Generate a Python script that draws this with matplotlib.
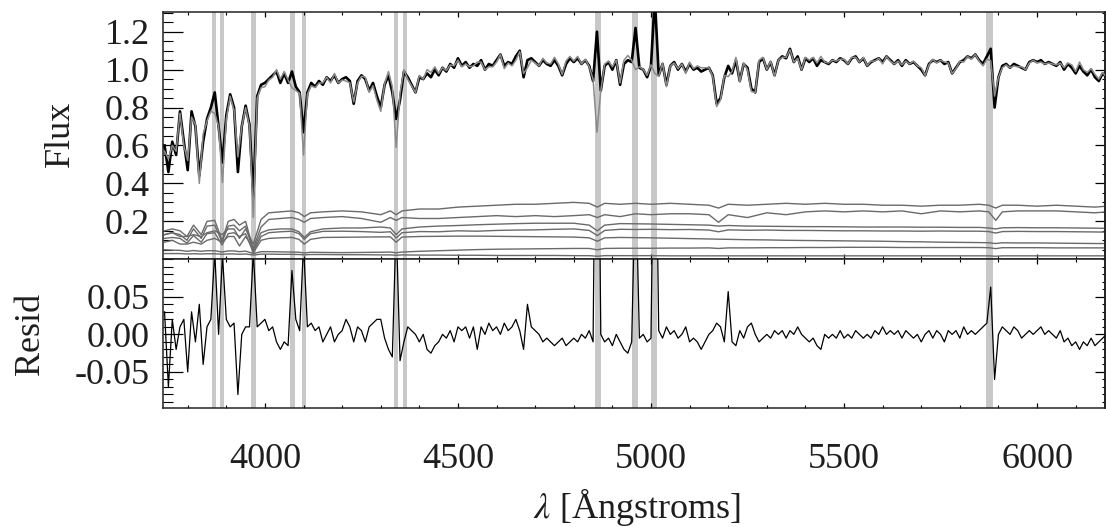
import numpy as np
import matplotlib
matplotlib.use('Agg')
import matplotlib.pyplot as plt
from matplotlib.ticker import MultipleLocator, FixedLocator, FormatStrFormatter

plt.rcParams['font.family'] = 'serif'
plt.rcParams['font.serif'] = ['Liberation Serif', 'Times New Roman', 'DejaVu Serif']
plt.rcParams['mathtext.fontset'] = 'stix'
plt.rcParams['axes.unicode_minus'] = False

# ---------------------------------------------------------------- #
# data
# ---------------------------------------------------------------- #

# wavelength sampling of the spectrum (10 A)
wave = np.arange(3740, 6190, 10)

# observed flux
flux = [
    0.60, 0.46, 0.62, 0.55, 0.78, 0.62, 0.47, 0.78, 0.70, 0.44,
    0.62, 0.74, 0.80, 0.88, 0.70, 0.51, 0.76, 0.87, 0.80, 0.46,
    0.70, 0.81, 0.71, 0.33, 0.86, 0.92, 0.93, 0.95, 0.97, 0.99,
    0.93, 0.98, 0.93, 0.99, 0.91, 0.88, 0.67, 0.88, 0.93, 0.91,
    0.94, 0.92, 0.96, 0.94, 0.97, 0.93, 0.95, 0.96, 0.94, 0.82,
    0.94, 0.97, 0.95, 0.89, 0.93, 0.86, 0.80, 0.92, 0.97, 0.88,
    0.74, 0.84, 0.99, 0.96, 0.92, 0.88, 0.96, 0.95, 0.98, 0.96,
    1.00, 0.97, 1.01, 0.99, 1.03, 1.01, 1.06, 1.02, 1.04, 1.01,
    1.03, 1.02, 1.05, 1.00, 1.03, 1.02, 1.05, 1.08, 1.02, 1.04,
    1.03, 1.07, 1.10, 0.96, 1.05, 1.06, 1.04, 1.02, 1.05, 1.03,
    1.02, 1.05, 1.02, 0.97, 1.03, 1.06, 1.04, 1.06, 1.03, 1.05,
    1.02, 0.94, 1.20, 0.89, 1.02, 1.04, 1.00, 1.05, 0.92, 1.03,
    1.05, 1.04, 1.22, 1.01, 1.00, 0.96, 1.02, 1.38, 0.97, 1.03,
    0.92, 1.02, 1.04, 1.00, 1.03, 0.99, 1.03, 1.00, 1.01, 0.99,
    1.00, 1.01, 0.97, 0.82, 0.85, 0.96, 1.02, 0.98, 1.05, 0.94,
    1.03, 1.01, 0.90, 0.88, 1.04, 1.06, 1.00, 1.04, 0.97, 1.05,
    1.07, 1.06, 1.11, 1.04, 1.07, 1.00, 1.06, 1.04, 1.06, 1.02,
    1.05, 1.04, 1.03, 1.05, 1.04, 1.06, 1.05, 1.03, 1.06, 1.07,
    1.04, 1.06, 1.02, 1.04, 1.05, 1.06, 1.04, 1.07, 1.05, 1.03,
    1.05, 1.02, 1.05, 1.03, 1.04, 1.02, 1.00, 0.97, 1.03, 1.05,
    1.04, 1.05, 1.03, 1.04, 0.98, 1.01, 1.04, 1.05, 1.07, 1.06,
    1.08, 1.05, 1.03, 1.07, 1.11, 0.80, 0.96, 1.02, 1.03, 1.01,
    1.03, 1.02, 1.01, 1.00, 1.04, 1.05, 1.04, 1.05, 1.03, 1.04,
    1.03, 1.02, 1.04, 1.00, 1.03, 1.01, 0.98, 1.02, 0.99, 0.97,
    1.00, 0.96, 0.94, 0.98, 0.96,
]

# residual (data - model); values above 0.1 run off the panel
resid = [
    0.03, -0.07, 0.02, -0.02, 0.01, 0.02, -0.05, 0.03, -0.01, 0.04,
    -0.04, 0.01, 0.02, 0.11, 0.00, 0.105, 0.02, 0.01, 0.015, -0.08,
    0.00, 0.01, 0.01, 0.11, 0.01, 0.015, 0.02, 0.005, 0.01, -0.01,
    -0.02, -0.01, -0.015, 0.085, 0.02, 0.005, 0.12, 0.01, 0.015, 0.005,
    0.01, -0.01, 0.00, 0.01, -0.01, 0.00, 0.005, 0.02, 0.01, -0.01,
    0.01, 0.005, -0.01, 0.01, 0.015, 0.02, 0.02, -0.005, -0.02, -0.03,
    0.15, -0.035, -0.01, 0.01, 0.005, 0.00, -0.01, 0.00, -0.02, -0.025,
    -0.015, -0.01, 0.00, -0.005, 0.005, -0.01, 0.01, 0.005, 0.01, -0.005,
    0.01, -0.02, 0.01, 0.00, 0.015, 0.005, 0.01, 0.00, 0.015, 0.005,
    0.01, 0.02, 0.005, -0.02, 0.04, 0.01, 0.005, 0.00, -0.01, -0.005,
    -0.01, -0.015, -0.01, -0.005, -0.015, -0.01, -0.005, -0.01, 0.00, -0.005,
    0.005, -0.01, 0.53, 0.00, -0.01, -0.005, -0.015, 0.00, -0.01, -0.02,
    -0.025, -0.01, 0.22, -0.005, 0.00, -0.01, -0.005, 0.40, 0.005, -0.005,
    0.01, 0.00, 0.005, -0.005, 0.00, 0.01, -0.01, -0.005, -0.01, -0.02,
    -0.01, 0.00, 0.005, 0.015, 0.01, -0.01, 0.057, -0.01, -0.015, 0.005,
    -0.005, 0.01, 0.015, 0.00, -0.01, -0.005, 0.00, -0.005, 0.005, 0.00,
    0.005, -0.005, 0.005, 0.00, 0.01, 0.00, -0.005, -0.01, -0.005, -0.015,
    -0.02, 0.00, -0.005, 0.00, -0.005, 0.005, -0.005, 0.00, -0.005, 0.005,
    0.00, -0.005, 0.00, -0.005, 0.005, 0.00, 0.01, 0.00, 0.005, 0.00,
    0.005, -0.005, 0.005, 0.00, -0.005, 0.00, -0.01, 0.00, 0.005, -0.005,
    0.005, 0.00, -0.01, 0.005, 0.00, 0.005, -0.005, 0.01, 0.00, 0.005,
    0.00, 0.005, 0.01, 0.015, 0.063, -0.06, 0.00, 0.01, 0.005, 0.00,
    0.01, 0.005, -0.005, 0.00, 0.005, 0.00, 0.005, 0.01, 0.00, 0.005,
    0.00, -0.005, 0.005, -0.01, -0.005, -0.015, -0.01, -0.02, -0.01, -0.015,
    -0.005, -0.015, -0.01, -0.005, 0.00,
]

# coarser sampling for the template components
wave_comp = [
    3740, 3760, 3780, 3798, 3815, 3835, 3850, 3870, 3889, 3905, 3920, 3934, 3950, 3970, 3990,
    4010, 4040, 4070, 4088, 4102, 4118, 4150, 4200, 4250, 4300, 4325, 4340, 4355, 4400, 4450,
    4500, 4550, 4600, 4650, 4700, 4750, 4800, 4840, 4861, 4880, 4920, 4960, 5000, 5050, 5100,
    5150, 5175, 5200, 5250, 5300, 5350, 5400, 5450, 5500, 5550, 5600, 5650, 5700, 5750, 5800,
    5850, 5875, 5893, 5910, 5950, 6000, 6050, 6100, 6150, 6180,
]

comp1 = [
    0.13, 0.14, 0.12, 0.12, 0.13, 0.12, 0.14, 0.15, 0.13, 0.16, 0.16, 0.11, 0.16, 0.08, 0.21,
    0.245, 0.25, 0.255, 0.245, 0.225, 0.245, 0.25, 0.255, 0.25, 0.235, 0.255, 0.235, 0.255, 0.265, 0.265,
    0.275, 0.28, 0.285, 0.29, 0.29, 0.295, 0.30, 0.295, 0.275, 0.295, 0.29, 0.295, 0.29, 0.295, 0.29,
    0.285, 0.27, 0.29, 0.285, 0.29, 0.295, 0.29, 0.295, 0.29, 0.29, 0.285, 0.285, 0.28, 0.285, 0.285,
    0.29, 0.285, 0.27, 0.285, 0.285, 0.28, 0.285, 0.28, 0.275, 0.28,
]
comp2 = [
    0.09, 0.10, 0.08, 0.08, 0.09, 0.08, 0.10, 0.11, 0.09, 0.12, 0.12, 0.07, 0.12, 0.06, 0.17,
    0.21, 0.215, 0.22, 0.21, 0.195, 0.215, 0.22, 0.225, 0.215, 0.195, 0.22, 0.205, 0.22, 0.215, 0.215,
    0.22, 0.225, 0.23, 0.225, 0.23, 0.225, 0.23, 0.235, 0.22, 0.235, 0.225, 0.24, 0.235, 0.24, 0.24,
    0.235, 0.195, 0.235, 0.22, 0.245, 0.235, 0.25, 0.255, 0.25, 0.255, 0.25, 0.255, 0.24, 0.255, 0.25,
    0.255, 0.25, 0.205, 0.25, 0.255, 0.255, 0.255, 0.25, 0.245, 0.25,
]
comp3 = [
    0.15, 0.16, 0.15, 0.12, 0.18, 0.13, 0.20, 0.205, 0.10, 0.20, 0.21, 0.18, 0.20, 0.05, 0.14,
    0.155, 0.16, 0.16, 0.145, 0.115, 0.145, 0.16, 0.165, 0.165, 0.17, 0.165, 0.13, 0.16, 0.17, 0.175,
    0.178, 0.182, 0.185, 0.188, 0.19, 0.19, 0.19, 0.18, 0.15, 0.18, 0.188, 0.187, 0.186, 0.184, 0.182,
    0.18, 0.175, 0.178, 0.175, 0.174, 0.173, 0.172, 0.172, 0.171, 0.17, 0.17, 0.17, 0.169, 0.169, 0.168,
    0.168, 0.165, 0.16, 0.166, 0.167, 0.166, 0.166, 0.165, 0.164, 0.163,
]
comp4 = [
    0.13, 0.14, 0.13, 0.10, 0.16, 0.11, 0.175, 0.18, 0.09, 0.175, 0.18, 0.15, 0.175, 0.04, 0.12,
    0.14, 0.145, 0.148, 0.135, 0.105, 0.135, 0.147, 0.148, 0.146, 0.142, 0.145, 0.112, 0.14, 0.146, 0.145,
    0.15, 0.148, 0.152, 0.154, 0.155, 0.158, 0.16, 0.152, 0.125, 0.152, 0.158, 0.157, 0.158, 0.156, 0.157,
    0.154, 0.145, 0.155, 0.153, 0.154, 0.152, 0.152, 0.151, 0.150, 0.150, 0.149, 0.149, 0.148, 0.149, 0.148,
    0.148, 0.146, 0.138, 0.146, 0.147, 0.146, 0.146, 0.145, 0.144, 0.143,
]
comp5 = [
    0.11, 0.115, 0.11, 0.085, 0.125, 0.09, 0.135, 0.14, 0.075, 0.135, 0.14, 0.12, 0.135, 0.035, 0.10,
    0.11, 0.113, 0.115, 0.105, 0.08, 0.105, 0.115, 0.116, 0.117, 0.118, 0.118, 0.09, 0.117, 0.12, 0.121,
    0.122, 0.122, 0.121, 0.12, 0.119, 0.118, 0.117, 0.113, 0.095, 0.113, 0.115, 0.114, 0.113, 0.111, 0.109,
    0.107, 0.106, 0.105, 0.103, 0.102, 0.100, 0.099, 0.098, 0.097, 0.096, 0.095, 0.093, 0.092, 0.090, 0.089,
    0.088, 0.087, 0.083, 0.087, 0.086, 0.086, 0.085, 0.084, 0.083, 0.083,
]
comp6 = [
    0.05, 0.048, 0.047, 0.042, 0.046, 0.042, 0.045, 0.045, 0.038, 0.044, 0.044, 0.04, 0.043, 0.03, 0.04,
    0.04, 0.039, 0.038, 0.037, 0.033, 0.037, 0.036, 0.035, 0.036, 0.037, 0.038, 0.034, 0.038, 0.042, 0.045,
    0.048, 0.051, 0.053, 0.054, 0.055, 0.056, 0.057, 0.057, 0.05, 0.057, 0.058, 0.058, 0.058, 0.059, 0.059,
    0.06, 0.057, 0.06, 0.06, 0.061, 0.061, 0.062, 0.062, 0.063, 0.063, 0.063, 0.062, 0.062, 0.062, 0.062,
    0.062, 0.061, 0.056, 0.061, 0.061, 0.061, 0.06, 0.06, 0.06, 0.06,
]
comp7 = [
    0.03, 0.03, 0.03, 0.028, 0.029, 0.028, 0.029, 0.029, 0.026, 0.028, 0.028, 0.026, 0.028, 0.022, 0.027,
    0.027, 0.026, 0.026, 0.025, 0.023, 0.025, 0.025, 0.024, 0.024, 0.023, 0.023, 0.021, 0.023, 0.022, 0.022,
    0.021, 0.021, 0.02, 0.02, 0.02, 0.02, 0.019, 0.019, 0.016, 0.019, 0.019, 0.019, 0.019, 0.018, 0.018,
    0.018, 0.018, 0.018, 0.018, 0.018, 0.018, 0.018, 0.018, 0.018, 0.018, 0.018, 0.018, 0.018, 0.018, 0.018,
    0.018, 0.018, 0.016, 0.018, 0.018, 0.018, 0.018, 0.018, 0.018, 0.018,
]
components = [comp1, comp2, comp3, comp4, comp5, comp6, comp7]

# masked emission lines: centre and full width (A)
line_centres = [3869, 3889, 3970, 4071, 4101, 4340, 4363, 4862, 4959, 5008, 5877]
line_widths = [11, 9, 13, 12, 12, 12, 10, 15, 15, 15, 18]

model = np.array(flux) - np.array(resid)

# ---------------------------------------------------------------- #
# plot
# ---------------------------------------------------------------- #
W, H = 1106, 527
fig = plt.figure(figsize=(W / 100, H / 100), dpi=100)
ax1 = fig.add_axes([163 / W, 1 - 258.5 / H, 942 / W, 246.5 / H])
ax2 = fig.add_axes([163 / W, 1 - 408 / H, 942 / W, 149.5 / H], sharex=ax1)

band_col = '#c8c8c8'
for ax in (ax1, ax2):
    for c, w in zip(line_centres, line_widths):
        ax.axvspan(c - w / 2, c + w / 2, color=band_col, lw=0, zorder=0)

for comp in components:
    ax1.plot(wave_comp, comp, color='#6a6a6a', lw=1.0, zorder=2)
ax1.plot(wave, flux, color='black', lw=1.9, zorder=3)
ax1.plot(wave, model, color='#8a8a8a', lw=1.1, zorder=4)

ax2.plot(wave, resid, color='black', lw=0.9, zorder=3)

ax1.set_xlim(3736, 6176)
ax1.set_ylim(0.004, 1.304)
ax2.set_ylim(-0.098, 0.101)

ax1.xaxis.set_major_locator(MultipleLocator(500))
ax1.xaxis.set_minor_locator(MultipleLocator(100))
ax1.yaxis.set_major_locator(FixedLocator([0.2, 0.4, 0.6, 0.8, 1.0, 1.2]))
ax1.yaxis.set_minor_locator(MultipleLocator(0.05))
ax1.yaxis.set_major_formatter(FormatStrFormatter('%.1f'))
ax2.yaxis.set_major_locator(FixedLocator([-0.05, 0.0, 0.05]))
ax2.yaxis.set_minor_locator(MultipleLocator(0.01))
ax2.yaxis.set_major_formatter(FormatStrFormatter('%.2f'))

fs = 26
txt_col = '#1e1e1e'
for ax in (ax1, ax2):
    for s in ax.spines.values():
        s.set_linewidth(1.1)
        s.set_color('#222222')
    ax.tick_params(axis='x', which='major', direction='in', length=3.8, width=0.9,
                   top=True, bottom=True, labelsize=fs, pad=25, labelcolor=txt_col)
    ax.tick_params(axis='x', which='minor', direction='in', length=2.0, width=0.8,
                   top=True, bottom=True)
    ax.tick_params(axis='y', which='major', direction='in', length=14.4, width=0.9,
                   left=True, right=False, labelsize=fs, pad=9.4, labelcolor=txt_col)
    ax.tick_params(axis='y', which='minor', direction='in', length=7.2, width=0.8,
                   left=True, right=False)
    sec = ax.secondary_yaxis('right')
    sec.yaxis.set_major_locator(ax.yaxis.get_major_locator())
    sec.yaxis.set_minor_locator(ax.yaxis.get_minor_locator())
    sec.tick_params(axis='y', which='major', direction='in', length=7, width=0.9, labelright=False)
    sec.tick_params(axis='y', which='minor', direction='in', length=2, width=0.8)
    sec.spines['right'].set_linewidth(1.1)
ax1.tick_params(axis='x', labelbottom=False)

fig.text(60 / W, 1 - 134 / H, 'Flux', rotation=90, ha='center', va='center',
         fontsize=fs, color=txt_col)
fig.text(30 / W, 1 - 334 / H, 'Resid', rotation=90, ha='center', va='center',
         fontsize=fs, color=txt_col)
fig.text(637 / W, 1 - 518 / H, r'$\lambda$ [Ångstroms]', ha='center', va='baseline',
         fontsize=fs, color=txt_col)

fig.savefig('out.png', dpi=100)
